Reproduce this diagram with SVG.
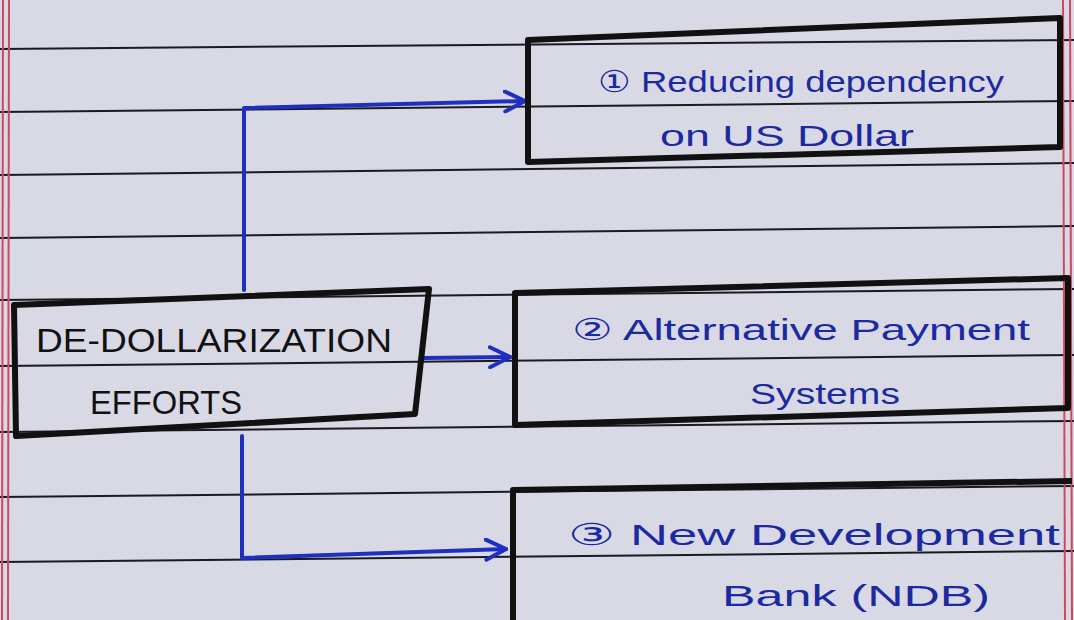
<svg xmlns="http://www.w3.org/2000/svg" width="1074" height="620" viewBox="0 0 1074 620">
<style>
.paper{fill:#d9d9e6}
.rule{stroke:#1a1a22;stroke-width:2;fill:none}
.margin{stroke:#d0485e;stroke-width:2;fill:none}
.box{fill:none;stroke:#111;stroke-width:6;stroke-linejoin:round}
.conn{fill:none;stroke:#1f2fc0;stroke-width:4;stroke-linecap:round;stroke-linejoin:round}
.t-main{font-family:"Liberation Sans",Arial,sans-serif;font-size:33px;fill:#111}
.t-blue{font-family:"Liberation Sans",Arial,sans-serif;font-size:30px;fill:#1c2aa0}
</style>
<defs>
<marker id="arr" viewBox="0 0 12 12" refX="11" refY="6" markerWidth="6" markerHeight="6" markerUnits="strokeWidth" orient="auto">
<path d="M1,1 L11,6 L1,11" fill="none" stroke="#1f2fc0" stroke-width="2" stroke-linecap="round"/>
</marker>
</defs>
<rect class="paper" x="0" y="0" width="1074" height="620"/>
<g id="paper-lines">
<path class="rule" d="M0,49 L1074,40"/>
<path class="rule" d="M0,112 L1074,101"/>
<path class="rule" d="M0,175 L1074,163"/>
<path class="rule" d="M0,238 L1074,226"/>
<path class="rule" d="M0,300 L1074,289"/>
<path class="rule" d="M0,366 L1074,355"/>
<path class="rule" d="M0,432 L1074,421"/>
<path class="rule" d="M0,497 L1074,486"/>
<path class="rule" d="M0,562 L1074,551"/>
<path class="margin" d="M3,0 L2,620"/>
<path class="margin" d="M9,0 L8,620"/>
<path class="margin" d="M1063,0 L1065,620"/>
<path class="margin" d="M1070,0 L1072,620"/>
</g>
<g id="connectors">
<path class="conn" d="M244,290 L244,108 L525,101" marker-end="url(#arr)"/>
<path class="conn" d="M422,358 L510,357" marker-end="url(#arr)"/>
<path class="conn" d="M242,436 L242,558 L506,549" marker-end="url(#arr)"/>
</g>
<g id="node-main">
<path class="box" d="M14,305 L429,289 L415,414 L16,436 Z"/>
<text class="t-main" x="36" y="352" textLength="356" lengthAdjust="spacingAndGlyphs">DE-DOLLARIZATION</text>
<text class="t-main" x="90" y="414" textLength="152" lengthAdjust="spacingAndGlyphs">EFFORTS</text>
</g>
<g id="node-1">
<path class="box" d="M528,40 L1060,18 L1060,147 L528,162 Z"/>
<text class="t-blue" x="598" y="92" textLength="406" lengthAdjust="spacingAndGlyphs">① Reducing dependency</text>
<text class="t-blue" x="660" y="146" textLength="254" lengthAdjust="spacingAndGlyphs">on US Dollar</text>
</g>
<g id="node-2">
<path class="box" d="M515,293 L1068,278 L1068,408 L515,425 Z"/>
<text class="t-blue" x="572" y="340" textLength="458" lengthAdjust="spacingAndGlyphs">② Alternative Payment</text>
<text class="t-blue" x="750" y="404" textLength="150" lengthAdjust="spacingAndGlyphs">Systems</text>
</g>
<g id="node-3">
<path class="box" d="M513,625 L513,490 L1072,481"/>
<text class="t-blue" x="568" y="545" textLength="492" lengthAdjust="spacingAndGlyphs">③ New Development</text>
<text class="t-blue" x="722" y="606" textLength="268" lengthAdjust="spacingAndGlyphs">Bank (NDB)</text>
</g>
</svg>
